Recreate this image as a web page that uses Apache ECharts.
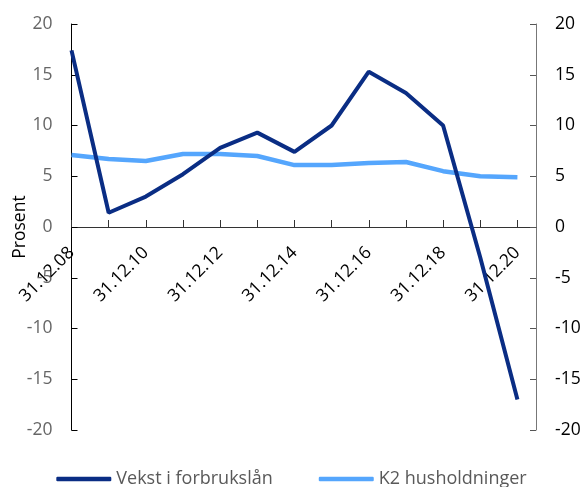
<!DOCTYPE html>
<html>
<head>
<meta charset="utf-8">
<script src="https://cdn.jsdelivr.net/npm/echarts@6/dist/echarts.min.js"></script>
<style>
  html, body { margin: 0; padding: 0; background: #fff; }
  #chart { width: 583px; height: 487px; }
</style>
</head>
<body>
<div id="chart"></div>
<script>
var categories = ['31.12.08', '31.12.09', '31.12.10', '31.12.11', '31.12.12', '31.12.13', '31.12.14',
                  '31.12.15', '31.12.16', '31.12.17', '31.12.18', '31.12.19', '31.12.20'];
var vekst = [17.4, 1.4, 3.0, 5.2, 7.8, 9.3, 7.4, 10.0, 15.3, 13.2, 10.0, -3.0, -17.0];
var k2 = [7.1, 6.7, 6.5, 7.2, 7.2, 7.0, 6.1, 6.1, 6.3, 6.4, 5.5, 5.0, 4.9];
var yTicks = { min: -20, max: 20, step: 5 };

function pairs(values) {
    return values.map(function (v, i) { return [i, v]; });
}

var font = 'Open Sans';
var fs = 17.5;
var gridTop = 24, gridBottom = 57, plotH = 487 - gridTop - gridBottom;
// the x axis sits on the zero line: move it up from the bottom edge
var zeroOffset = -plotH * (0 - yTicks.min) / (yTicks.max - yTicks.min);

var chart = echarts.init(document.getElementById('chart'));

var option = {
    animation: false,
    textStyle: { fontFamily: font },
    grid: { left: 71.5, right: 47, top: gridTop, bottom: gridBottom, containLabel: false, outerBoundsMode: 'none' },
    legend: {
        data: ['Vekst i forbrukslån', 'K2 husholdninger'],
        top: 465,
        left: 'center',
        icon: 'roundRect',
        itemWidth: 55,
        itemHeight: 4.5,
        itemGap: 46,
        textStyle: { fontFamily: font, fontSize: 18, color: '#595959' }
    },
    xAxis: {
        type: 'value',
        position: 'bottom',
        offset: zeroOffset,
        min: 0,
        max: categories.length - 0.5,
        interval: 1,
        splitLine: { show: false },
        axisLine: { onZero: false, lineStyle: { color: '#333', width: 1 } },
        axisTick: { inside: true, length: 7, lineStyle: { color: '#333' } },
        axisLabel: {
            rotate: 45,
            margin: 23,
            fontSize: fs,
            fontFamily: font,
            color: '#000',
            showMaxLabel: false,
            formatter: function (v) {
                return (Number.isInteger(v) && v % 2 === 0) ? categories[v] : '';
            }
        }
    },
    yAxis: [
        {
            type: 'value',
            min: yTicks.min, max: yTicks.max, interval: yTicks.step,
            name: 'Prosent',
            nameLocation: 'middle',
            nameGap: 42,
            nameMoveOverlap: false,
            nameTextStyle: { fontFamily: font, fontSize: fs, color: '#000' },
            splitLine: { show: false },
            axisLine: { show: true, onZero: false, lineStyle: { color: '#000' } },
            axisTick: { show: true, inside: true, length: 6, lineStyle: { color: '#000' } },
            axisLabel: { margin: 19, fontSize: fs, fontFamily: font, color: '#666' }
        },
        {
            type: 'value',
            position: 'right',
            min: yTicks.min, max: yTicks.max, interval: yTicks.step,
            splitLine: { show: false },
            axisLine: { show: true, onZero: false, lineStyle: { color: '#777' } },
            axisTick: { show: true, inside: true, length: 6, lineStyle: { color: '#555' } },
            axisLabel: { margin: 19, fontSize: fs, fontFamily: font, color: '#000' }
        }
    ],
    series: [
        {
            name: 'K2 husholdninger',
            type: 'line',
            data: pairs(k2),
            showSymbol: false,
            lineStyle: { color: '#55a6fd', width: 4.5 },
            itemStyle: { color: '#55a6fd' }
        },
        {
            name: 'Vekst i forbrukslån',
            type: 'line',
            data: pairs(vekst),
            showSymbol: false,
            lineStyle: { color: '#0a2d84', width: 4 },
            itemStyle: { color: '#0a2d84' }
        }
    ]
};

chart.setOption(option);
</script>
</body>
</html>
